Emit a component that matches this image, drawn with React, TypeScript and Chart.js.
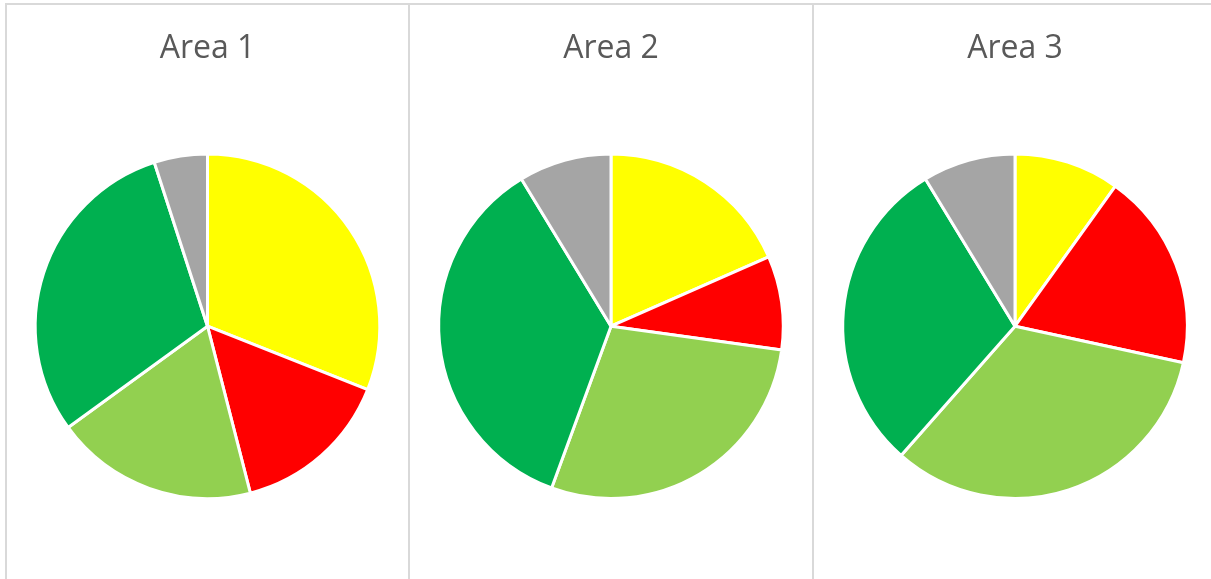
import React, { useEffect, useRef } from "react";
import { Chart, registerables } from "chart.js";

Chart.register(...registerables);

const categories = ["Category 1", "Category 2", "Category 3", "Category 4", "Category 5"];
const areaTitles = ["Area 1", "Area 2", "Area 3"];
const area1Values = [31, 15, 19, 30, 5];
const area2Values = [18.4, 8.8, 28.4, 35.7, 8.7];
const area3Values = [9.9, 18.5, 33.1, 29.8, 8.7];
const sliceColors = ["#FFFF00", "#FF0000", "#92D050", "#00B050", "#A5A5A5"];

const allValues = [area1Values, area2Values, area3Values];
const panelWidths = [401, 402, 402];

function PieChart({ title, values, width }: { title: string; values: number[]; width: number }) {
  const ref = useRef<HTMLCanvasElement | null>(null);
  useEffect(() => {
    if (!ref.current) return;
    const chart = new Chart(ref.current, {
      type: "pie",
      data: {
        labels: categories,
        datasets: [
          {
            data: values,
            backgroundColor: sliceColors,
            borderColor: "#FFFFFF",
            borderWidth: 3,
          },
        ],
      },
      options: {
        animation: false,
        responsive: false,
        events: [],
        layout: { padding: { top: 0, bottom: 79, left: 0, right: 0 } },
        plugins: {
          legend: { display: false },
          tooltip: { enabled: false },
          title: {
            display: true,
            text: title,
            color: "#595959",
            font: { family: "'Open Sans', sans-serif", size: 32, weight: "normal", lineHeight: 1.2 },
            padding: { top: 25, bottom: 84 },
          },
        },
      },
    });
    return () => chart.destroy();
  }, [title, values]);
  return <canvas ref={ref} width={width} height={574} style={{ display: "block", width, height: 574 }} />;
}

export default function App() {
  return (
    <div
      style={{
        position: "fixed",
        left: 0,
        top: 0,
        width: 1211,
        height: 579,
        overflow: "hidden",
        background: "#FFFFFF",
      }}
    >
      <div
        style={{
          position: "absolute",
          left: 5,
          top: 3,
          display: "flex",
          borderTop: "2px solid #D9D9D9",
          width: 1300,
        }}
      >
        {areaTitles.map((t, i) => (
          <div key={t} style={{ borderLeft: "2px solid #D9D9D9", width: panelWidths[i] }}>
            <PieChart title={t} values={allValues[i]} width={panelWidths[i]} />
          </div>
        ))}
      </div>
    </div>
  );
}
